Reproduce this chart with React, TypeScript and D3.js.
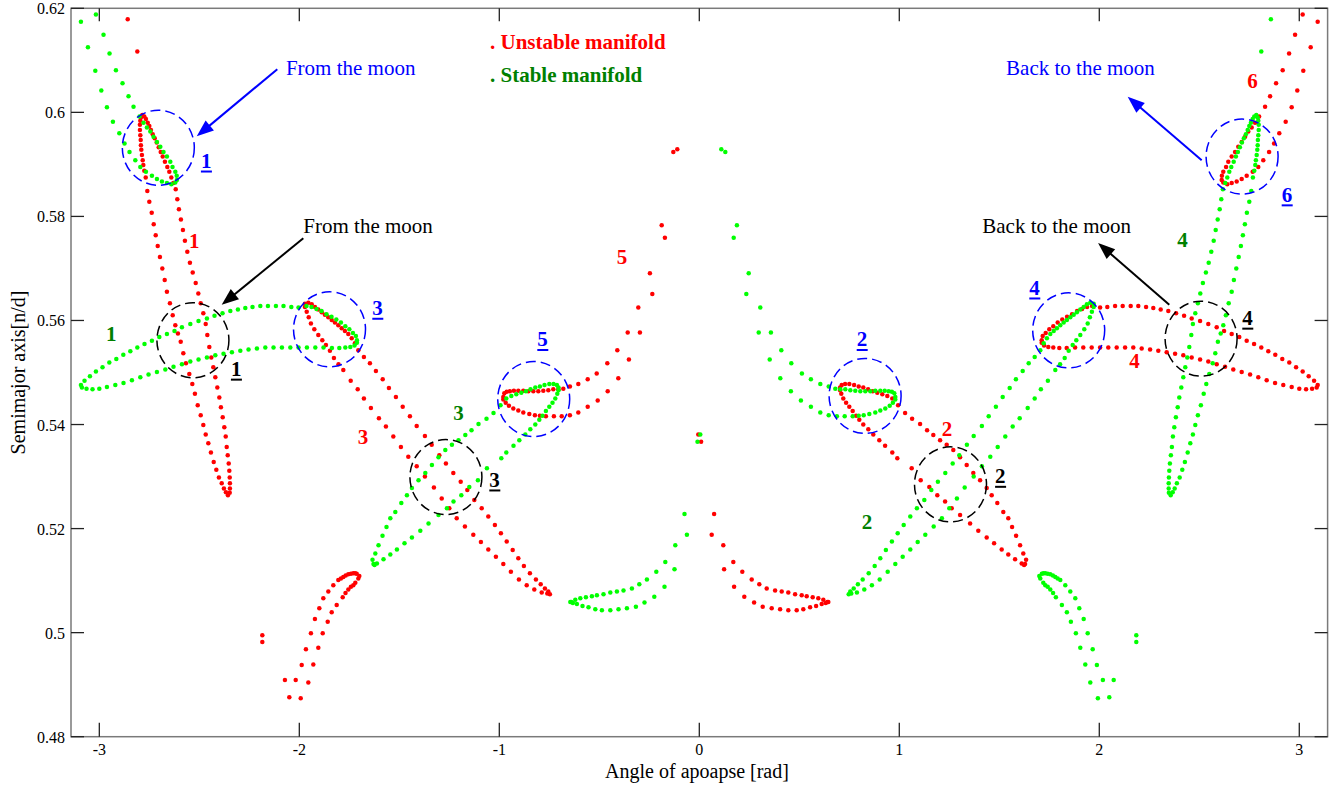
import React from 'react';
import * as d3 from 'd3';

type P = [number, number];

const uTopLeft: P[] = [[-2.858, 0.6179], [-2.810, 0.6117]];
const uLobe1A: P[] = [[-2.785,0.5995],[-2.792,0.5990],[-2.795,0.5984],[-2.797,0.5976],[-2.797,0.5966],[-2.795,0.5956],[-2.793,0.5947],[-2.792,0.5937],[-2.790,0.5928],[-2.787,0.5918],[-2.783,0.5908],[-2.780,0.5899],[-2.775,0.5888],[-2.768,0.5875],[-2.760,0.5849],[-2.750,0.5828],[-2.738,0.5807],[-2.728,0.5785],[-2.718,0.5764],[-2.708,0.5743],[-2.697,0.5722],[-2.685,0.5700],[-2.673,0.5678],[-2.662,0.5655],[-2.647,0.5633],[-2.633,0.5610],[-2.620,0.5591],[-2.607,0.5575],[-2.593,0.5559],[-2.580,0.5537],[-2.567,0.5518],[-2.550,0.5497],[-2.535,0.5478],[-2.522,0.5459],[-2.508,0.5437],[-2.493,0.5418],[-2.480,0.5399],[-2.468,0.5381],[-2.455,0.5364],[-2.442,0.5346],[-2.428,0.5328],[-2.415,0.5313],[-2.402,0.5298],[-2.388,0.5287],[-2.377,0.5277],[-2.367,0.5270],[-2.357,0.5264]];
const uLobe1B: P[] = [[-2.775,0.5992],[-2.767,0.5987],[-2.758,0.5980],[-2.750,0.5974],[-2.742,0.5966],[-2.733,0.5958],[-2.723,0.5950],[-2.713,0.5942],[-2.703,0.5933],[-2.693,0.5924],[-2.683,0.5915],[-2.672,0.5905],[-2.660,0.5895],[-2.650,0.5886],[-2.640,0.5875],[-2.630,0.5864],[-2.618,0.5852],[-2.610,0.5833],[-2.602,0.5814],[-2.592,0.5794],[-2.582,0.5774],[-2.572,0.5753],[-2.560,0.5732],[-2.547,0.5711],[-2.533,0.5692],[-2.518,0.5672],[-2.505,0.5652],[-2.493,0.5633],[-2.480,0.5614],[-2.468,0.5593],[-2.460,0.5572],[-2.450,0.5549],[-2.440,0.5529],[-2.430,0.5510],[-2.420,0.5491],[-2.410,0.5471],[-2.400,0.5452],[-2.392,0.5433],[-2.383,0.5414],[-2.375,0.5395],[-2.368,0.5377],[-2.363,0.5357],[-2.358,0.5341],[-2.353,0.5325],[-2.350,0.5311],[-2.348,0.5298],[-2.347,0.5287],[-2.347,0.5277],[-2.348,0.5269]];
const uLobe3A: P[] = [[-1.972,0.5632],[-1.955,0.5634],[-1.938,0.5631],[-1.922,0.5626],[-1.905,0.5621],[-1.888,0.5616],[-1.872,0.5611],[-1.855,0.5606],[-1.838,0.5601],[-1.822,0.5596],[-1.805,0.5591],[-1.788,0.5585],[-1.772,0.5580],[-1.755,0.5574],[-1.738,0.5566],[-1.722,0.5556],[-1.705,0.5543],[-1.677,0.5530],[-1.647,0.5518],[-1.617,0.5503],[-1.583,0.5487],[-1.552,0.5470],[-1.517,0.5453],[-1.483,0.5434],[-1.447,0.5416],[-1.413,0.5397],[-1.372,0.5378],[-1.338,0.5361],[-1.300,0.5341],[-1.267,0.5325],[-1.230,0.5307],[-1.193,0.5290],[-1.160,0.5274],[-1.125,0.5255],[-1.088,0.5239],[-1.055,0.5223],[-1.022,0.5207],[-0.992,0.5191],[-0.963,0.5175],[-0.933,0.5159],[-0.905,0.5143],[-0.877,0.5128],[-0.847,0.5114],[-0.817,0.5102],[-0.793,0.5093],[-0.772,0.5085],[-0.755,0.5079],[-0.747,0.5074]];
const uLobe3B: P[] = [[-1.972,0.5626],[-1.963,0.5617],[-1.953,0.5606],[-1.942,0.5594],[-1.925,0.5583],[-1.905,0.5572],[-1.885,0.5562],[-1.867,0.5553],[-1.847,0.5542],[-1.827,0.5528],[-1.804,0.5516],[-1.780,0.5505],[-1.743,0.5484],[-1.708,0.5468],[-1.677,0.5450],[-1.642,0.5432],[-1.602,0.5412],[-1.567,0.5396],[-1.530,0.5377],[-1.492,0.5357],[-1.455,0.5338],[-1.413,0.5320],[-1.372,0.5300],[-1.327,0.5279],[-1.288,0.5258],[-1.250,0.5239],[-1.213,0.5220],[-1.172,0.5204],[-1.130,0.5188],[-1.092,0.5174],[-1.055,0.5160],[-1.017,0.5146],[-0.980,0.5132],[-0.942,0.5117],[-0.902,0.5102],[-0.863,0.5091],[-0.825,0.5083],[-0.788,0.5077],[-0.760,0.5075]];
const uLobe5A: P[] = [[-0.980,0.5453],[-0.975,0.5460],[-0.963,0.5463],[-0.947,0.5464],[-0.927,0.5465],[-0.905,0.5465],[-0.880,0.5465],[-0.855,0.5464],[-0.830,0.5464],[-0.805,0.5464],[-0.780,0.5465],[-0.755,0.5466],[-0.730,0.5468],[-0.705,0.5468],[-0.680,0.5469],[-0.647,0.5473],[-0.605,0.5478],[-0.558,0.5487],[-0.513,0.5498],[-0.460,0.5518],[-0.410,0.5543],[-0.358,0.5577],[-0.305,0.5625],[-0.247,0.5691],[-0.188,0.5783],[-0.110,0.5929]];
const uLobe5B: P[] = [[-0.980,0.5448],[-0.968,0.5442],[-0.952,0.5436],[-0.930,0.5431],[-0.905,0.5427],[-0.880,0.5423],[-0.850,0.5420],[-0.822,0.5418],[-0.797,0.5417],[-0.767,0.5416],[-0.727,0.5416],[-0.688,0.5416],[-0.647,0.5418],[-0.605,0.5423],[-0.558,0.5434],[-0.508,0.5446],[-0.458,0.5464],[-0.405,0.5489],[-0.352,0.5525],[-0.297,0.5577],[-0.235,0.5651],[-0.172,0.5759],[-0.130,0.5924]];
const uCenter: P[] = [[-0.005,0.5381],[0.009,0.5367]];
const uBowlA: P[] = [[0.074,0.5228],[0.120,0.5168],[0.170,0.5136],[0.215,0.5117],[0.262,0.5102],[0.300,0.5093],[0.337,0.5085],[0.379,0.5081],[0.412,0.5079],[0.445,0.5077],[0.479,0.5074],[0.512,0.5072],[0.537,0.5070],[0.567,0.5068],[0.595,0.5066],[0.620,0.5063],[0.640,0.5059]];
const uBowlB: P[] = [[0.062,0.5188],[0.124,0.5122],[0.174,0.5088],[0.225,0.5069],[0.274,0.5058],[0.317,0.5050],[0.362,0.5047],[0.404,0.5045],[0.445,0.5043],[0.487,0.5043],[0.520,0.5045],[0.554,0.5049],[0.584,0.5051],[0.612,0.5055],[0.632,0.5057],[0.645,0.5059]];
const uLowLeftA: P[] = [[-1.700,0.5109],[-1.713,0.5113],[-1.721,0.5114],[-1.730,0.5114],[-1.742,0.5113],[-1.755,0.5112],[-1.768,0.5110],[-1.780,0.5107],[-1.792,0.5104],[-1.805,0.5101],[-1.830,0.5091],[-1.855,0.5079],[-1.880,0.5066],[-1.900,0.5047],[-1.922,0.5026],[-1.942,0.4999],[-1.967,0.4968],[-1.988,0.4938],[-2.018,0.4909],[-2.050,0.4876],[-2.072,0.4909]];
const uLowLeftB: P[] = [[-1.705,0.5104],[-1.720,0.5096],[-1.730,0.5091],[-1.742,0.5088],[-1.755,0.5083],[-1.769,0.5076],[-1.783,0.5068],[-1.813,0.5053],[-1.838,0.5039],[-1.858,0.5021],[-1.883,0.4999],[-1.905,0.4971],[-1.930,0.4939],[-1.955,0.4904],[-1.993,0.4874]];
const uIsolated: P[] = [[-2.185,0.4995],[-2.185,0.4982]];
const uLobe2A: P[] = [[0.704,0.5471],[0.712,0.5476],[0.729,0.5478],[0.750,0.5478],[0.774,0.5476],[0.797,0.5473],[0.820,0.5471],[0.844,0.5468],[0.867,0.5464],[0.890,0.5461],[0.915,0.5458],[0.940,0.5455],[0.965,0.5450],[0.994,0.5437],[1.029,0.5422],[1.064,0.5411],[1.104,0.5401],[1.139,0.5389],[1.170,0.5380],[1.204,0.5370],[1.237,0.5361],[1.270,0.5351],[1.304,0.5337],[1.337,0.5322],[1.370,0.5307],[1.404,0.5293],[1.437,0.5278],[1.462,0.5264],[1.490,0.5249],[1.520,0.5232],[1.545,0.5220],[1.564,0.5203],[1.584,0.5186],[1.604,0.5168],[1.620,0.5152],[1.634,0.5140],[1.629,0.5132]];
const uLobe2B: P[] = [[0.704,0.5466],[0.710,0.5459],[0.720,0.5450],[0.734,0.5442],[0.750,0.5434],[0.767,0.5426],[0.784,0.5417],[0.800,0.5409],[0.820,0.5400],[0.845,0.5391],[0.870,0.5381],[0.900,0.5370],[0.929,0.5359],[0.965,0.5346],[0.990,0.5335],[1.062,0.5316],[1.107,0.5293],[1.150,0.5280],[1.190,0.5264],[1.229,0.5252],[1.262,0.5239],[1.304,0.5226],[1.354,0.5210],[1.395,0.5196],[1.437,0.5183],[1.474,0.5172],[1.512,0.5160],[1.545,0.5150],[1.579,0.5141],[1.612,0.5133],[1.624,0.5130]];
const uLobe4A: P[] = [[1.712,0.5562],[1.717,0.5570],[1.732,0.5576],[1.750,0.5583],[1.770,0.5589],[1.792,0.5596],[1.815,0.5602],[1.839,0.5607],[1.864,0.5612],[1.889,0.5618],[1.914,0.5622],[1.939,0.5626],[1.964,0.5628],[2.004,0.5625],[2.040,0.5626],[2.079,0.5628],[2.117,0.5628],[2.157,0.5628],[2.195,0.5628],[2.234,0.5626],[2.270,0.5624],[2.307,0.5621],[2.345,0.5618],[2.384,0.5614],[2.424,0.5609],[2.462,0.5604],[2.504,0.5599],[2.545,0.5593],[2.587,0.5587],[2.624,0.5580],[2.662,0.5574],[2.700,0.5568],[2.737,0.5561],[2.774,0.5555],[2.810,0.5548],[2.845,0.5541],[2.880,0.5534],[2.915,0.5526],[2.950,0.5519],[2.984,0.5510],[3.017,0.5502],[3.047,0.5493],[3.074,0.5484],[3.092,0.5476]];
const uLobe4B: P[] = [[1.712,0.5557],[1.724,0.5552],[1.745,0.5549],[1.770,0.5548],[1.800,0.5547],[1.837,0.5547],[1.879,0.5548],[1.920,0.5548],[1.962,0.5548],[2.004,0.5548],[2.045,0.5548],[2.087,0.5548],[2.129,0.5548],[2.170,0.5548],[2.212,0.5546],[2.254,0.5544],[2.295,0.5542],[2.337,0.5539],[2.379,0.5536],[2.420,0.5533],[2.462,0.5529],[2.504,0.5525],[2.545,0.5521],[2.587,0.5516],[2.629,0.5511],[2.670,0.5506],[2.712,0.5501],[2.754,0.5496],[2.795,0.5491],[2.837,0.5485],[2.879,0.5480],[2.920,0.5476],[2.962,0.5472],[3.000,0.5469],[3.034,0.5468],[3.064,0.5469],[3.087,0.5471]];
const uLobe6A: P[] = [[2.612,0.5870],[2.613,0.5878],[2.620,0.5886],[2.634,0.5895],[2.645,0.5905],[2.662,0.5915],[2.679,0.5924],[2.695,0.5934],[2.712,0.5943],[2.729,0.5953],[2.745,0.5963],[2.762,0.5971],[2.779,0.5980],[2.799,0.5992],[2.829,0.6011],[2.854,0.6031],[2.884,0.6056],[2.917,0.6081],[2.949,0.6113],[2.979,0.6149],[3.017,0.6188]];
const uLobe6B: P[] = [[2.620,0.5865],[2.640,0.5862],[2.662,0.5864],[2.687,0.5867],[2.712,0.5872],[2.737,0.5878],[2.767,0.5886],[2.795,0.5895],[2.820,0.5908],[2.849,0.5924],[2.874,0.5940],[2.900,0.5960],[2.932,0.5982],[2.962,0.6010],[2.990,0.6042],[3.020,0.6080],[3.057,0.6125],[3.092,0.6174]];

const unstableManifold: P[][] = [uTopLeft, uLobe1A, uLobe1B, uLobe3A, uLobe3B, uLobe5A, uLobe5B, uCenter, uBowlA, uBowlB, uLowLeftA, uLowLeftB, uIsolated, uLobe2A, uLobe2B, uLobe4A, uLobe4B, uLobe6A, uLobe6B];
// The stable manifold (green) in the figure is the exact mirror image of the unstable one (angle -> -angle).
const stableManifold: P[][] = unstableManifold.map((seg) => seg.map(([a, s]) => [-a, s] as P));

// ---- Axes ----
const xTicks = [-3, -2, -1, 0, 1, 2, 3];
const xTickLabels = ['-3', '-2', '-1', '0', '1', '2', '3'];
const yTicks = [0.48, 0.5, 0.52, 0.54, 0.56, 0.58, 0.6, 0.62];
const yTickLabels = ['0.48', '0.5', '0.52', '0.54', '0.56', '0.58', '0.6', '0.62'];

// ---- Annotations (data coordinates) ----
const blueCircles: P[] = [[-2.705,0.5932],[-1.849,0.5583],[-0.828,0.5449],[0.829,0.5455],[1.847,0.5581],[2.714,0.5915]];
const blackCircles: P[] = [[-2.532,0.5562],[-1.267,0.5299],[1.256,0.5285],[2.509,0.5565]];
const circleLabels: { t: string; x: number; y: number; c: string }[] = [
  { t: '1', x: -2.492, y: 0.5893, c: '#0000ff' },
  { t: '3', x: -1.635, y: 0.5610, c: '#0000ff' },
  { t: '5', x: -0.810, y: 0.5550, c: '#0000ff' },
  { t: '2', x: 0.787, y: 0.5550, c: '#0000ff' },
  { t: '4', x: 1.650, y: 0.5649, c: '#0000ff' },
  { t: '6', x: 2.912, y: 0.5828, c: '#0000ff' },
  { t: '1', x: -2.342, y: 0.5493, c: '#000000' },
  { t: '3', x: -1.050, y: 0.5280, c: '#000000' },
  { t: '2', x: 1.479, y: 0.5287, c: '#000000' },
  { t: '4', x: 2.715, y: 0.5591, c: '#000000' },
];
const curveLabels: { t: string; x: number; y: number; c: string }[] = [
  { t: '1', x: -2.552, y: 0.5739, c: '#ff0000' },
  { t: '1', x: -2.967, y: 0.5561, c: '#008000' },
  { t: '3', x: -1.708, y: 0.5362, c: '#ff0000' },
  { t: '3', x: -1.230, y: 0.5409, c: '#008000' },
  { t: '5', x: -0.413, y: 0.5708, c: '#ff0000' },
  { t: '2', x: 1.212, y: 0.5377, c: '#ff0000' },
  { t: '2', x: 0.812, y: 0.5200, c: '#008000' },
  { t: '4', x: 2.150, y: 0.5508, c: '#ff0000' },
  { t: '4', x: 2.390, y: 0.5742, c: '#008000' },
  { t: '6', x: 2.740, y: 0.6046, c: '#ff0000' },
];
const noteTexts: { t: string; x: number; y: number; c: string }[] = [
  { t: 'From the moon', x: -2.067, y: 0.6071, c: '#0000ff' },
  { t: 'From the moon', x: -1.980, y: 0.5768, c: '#000000' },
  { t: 'Back to the moon', x: 1.534, y: 0.6071, c: '#0000ff' },
  { t: 'Back to the moon', x: 1.415, y: 0.5768, c: '#000000' },
];
const arrows: { from: P; to: P; c: string }[] = [
  { from: [-2.110, 0.6083], to: [-2.513, 0.5954], c: '#0000ff' },
  { from: [-1.980, 0.5758], to: [-2.388, 0.5630], c: '#000000' },
  { from: [2.512, 0.5908], to: [2.142, 0.6030], c: '#0000ff' },
  { from: [2.350, 0.5630], to: [1.994, 0.5749], c: '#000000' },
];

export default function App() {
  const x = d3.scaleLinear().domain([-Math.PI, Math.PI]).range([71, 1327.6]);
  const y = d3.scaleLinear().domain([0.48, 0.62]).range([736.7, 8.3]);
  const font = "'Liberation Serif', 'Times New Roman', Times, serif";
  const x0 = x(-Math.PI), x1 = x(Math.PI), y0 = y(0.48), y1 = y(0.62);

  const arrowHead = (fx: number, fy: number, tx: number, ty: number) => {
    const ang = Math.atan2(ty - fy, tx - fx);
    const L = 17, Wd = 6.5;
    const bx = tx - L * Math.cos(ang), by = ty - L * Math.sin(ang);
    const px = -Math.sin(ang) * Wd, py = Math.cos(ang) * Wd;
    return `${tx},${ty} ${bx + px},${by + py} ${bx - px},${by - py}`;
  };

  return (
    <div style={{ position: 'absolute', left: 0, top: 0 }}>
      <svg width={1341} height={789} style={{ display: 'block', background: '#ffffff' }} fontFamily={font}>
        {/* dots */}
        <g fill="#ff0000">
          {unstableManifold.flat().map((p, i) => (
            <circle key={'u' + i} cx={x(p[0])} cy={y(p[1])} r={2.25} />
          ))}
        </g>
        <g fill="#00ff00">
          {stableManifold.flat().map((p, i) => (
            <circle key={'s' + i} cx={x(p[0])} cy={y(p[1])} r={2.25} />
          ))}
        </g>

        {/* frame */}
        <rect x={x0} y={y1} width={x1 - x0} height={y0 - y1} fill="none" stroke="#7a7a7a" strokeWidth={1.5} />
        {xTicks.map((t) => (
          <g key={'xt' + t} stroke="#222" strokeWidth={1.3}>
            <line x1={x(t)} x2={x(t)} y1={y0} y2={y0 - 14} />
            <line x1={x(t)} x2={x(t)} y1={y1} y2={y1 + 13} />
          </g>
        ))}
        {yTicks.map((t) => (
          <g key={'yt' + t} stroke="#222" strokeWidth={1.3}>
            <line x1={x0} x2={x0 + 13} y1={y(t)} y2={y(t)} />
            <line x1={x1} x2={x1 - 13} y1={y(t)} y2={y(t)} />
          </g>
        ))}
        {xTicks.map((t, i) => (
          <text key={'xl' + t} x={x(t)} y={755} fontSize={16} textAnchor="middle" fill="#000">{xTickLabels[i]}</text>
        ))}
        {yTicks.map((t, i) => (
          <text key={'yl' + t} x={65} y={y(t) + 6} fontSize={16} textAnchor="end" fill="#000">{yTickLabels[i]}</text>
        ))}
        <text x={697} y={778} fontSize={20} textAnchor="middle" fill="#000">Angle of apoapse [rad]</text>
        <text transform="translate(25,372.5) rotate(-90)" fontSize={20} textAnchor="middle" fill="#000">Semimajor axis[n/d]</text>

        {/* legend */}
        <text x={490} y={49} fontSize={21} fontWeight="bold" fill="#ff0000">. Unstable manifold</text>
        <text x={490} y={81.5} fontSize={21} fontWeight="bold" fill="#008000">. Stable manifold</text>

        {/* circles */}
        {blueCircles.map((c, i) => (
          <ellipse key={'bc' + i} cx={x(c[0])} cy={y(c[1])} rx={36} ry={37.5} fill="none" stroke="#0000ff" strokeWidth={1.5} strokeDasharray="10,5" />
        ))}
        {blackCircles.map((c, i) => (
          <ellipse key={'kc' + i} cx={x(c[0])} cy={y(c[1])} rx={36} ry={37.5} fill="none" stroke="#000" strokeWidth={1.5} strokeDasharray="10,5" />
        ))}
        {circleLabels.map((l, i) => (
          <g key={'cl' + i}>
            <text x={x(l.x)} y={y(l.y)} fontSize={21} fontWeight="bold" fill={l.c}>{l.t}</text>
            <line x1={x(l.x)} x2={x(l.x) + 11} y1={y(l.y) + 3.5} y2={y(l.y) + 3.5} stroke={l.c} strokeWidth={2} />
          </g>
        ))}
        {curveLabels.map((l, i) => (
          <text key={'kl' + i} x={x(l.x)} y={y(l.y)} fontSize={21} fontWeight="bold" fill={l.c}>{l.t}</text>
        ))}
        {noteTexts.map((n, i) => (
          <text key={'nt' + i} x={x(n.x)} y={y(n.y)} fontSize={21} fill={n.c}>{n.t}</text>
        ))}
        {arrows.map((a, i) => {
          const fx = x(a.from[0]), fy = y(a.from[1]), tx = x(a.to[0]), ty = y(a.to[1]);
          const ang = Math.atan2(ty - fy, tx - fx);
          return (
            <g key={'ar' + i}>
              <line x1={fx} y1={fy} x2={tx - 12 * Math.cos(ang)} y2={ty - 12 * Math.sin(ang)} stroke={a.c} strokeWidth={2} />
              <polygon points={arrowHead(fx, fy, tx, ty)} fill={a.c} />
            </g>
          );
        })}
      </svg>
    </div>
  );
}
